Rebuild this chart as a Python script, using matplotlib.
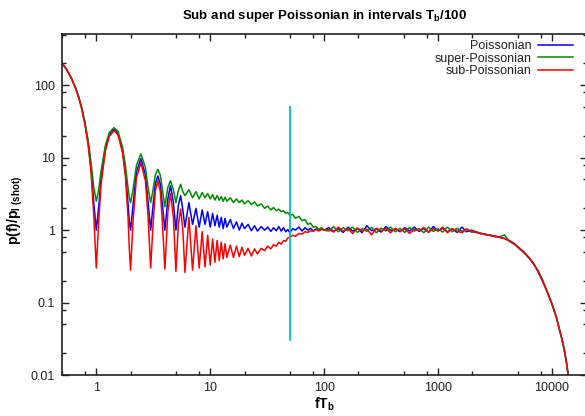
import numpy as np
import matplotlib
matplotlib.use('Agg')
import matplotlib.pyplot as plt
from matplotlib.ticker import LogLocator, NullFormatter, FixedLocator

plt.rcParams['font.family'] = ['Liberation Sans', 'DejaVu Sans']
plt.rcParams['mathtext.fontset'] = 'custom'
plt.rcParams['mathtext.rm'] = 'Liberation Sans'
plt.rcParams['mathtext.bf'] = 'Liberation Sans:bold'

# ---------------- data ----------------
# low frequencies: sinc^2 lobes
f_low = [0.5, 0.55, 0.6, 0.65, 0.7, 0.75, 0.8, 0.85, 0.9, 0.95, 1.0,
         1.05, 1.1, 1.2, 1.3, 1.43, 1.55, 1.7, 1.8, 1.9, 1.95, 2.0,
         2.1, 2.25, 2.46, 2.7, 2.85, 3.0,
         3.15, 3.3, 3.47, 3.65, 3.8, 4.0,
         4.25, 4.48, 4.75, 5.0,
         5.25, 5.5, 5.75, 6.0,
         6.5, 7.0, 7.5, 8.0, 8.5, 9.0, 9.5, 10.0]
pois_low = [203, 164, 128, 96, 69, 46, 28, 15.5, 7.0, 2.4, 1.0,
            2.1, 5.0, 13.1, 20.6, 24.8, 21.6, 12.5, 6.4, 2.3, 1.3, 1.0,
            2.2, 6.3, 9.7, 5.8, 2.4, 1.0,
            2.2, 4.4, 5.6, 4.3, 2.3, 1.0,
            2.7, 4.1, 2.4, 1.0,
            2.2, 3.0, 1.9, 1.1,
            2.4, 1.2, 2.0, 1.1, 1.9, 1.2, 1.8, 1.1]
super_low = [204, 165, 129, 97, 70, 47.5, 29.5, 17, 8.5, 3.9, 2.5,
             3.6, 6.5, 14.7, 22.2, 26.0, 23.2, 14.0, 7.9, 3.8, 2.8, 2.4,
             3.6, 7.8, 11.3, 7.3, 3.8, 2.4,
             3.6, 5.8, 6.9, 5.7, 3.7, 2.1,
             3.9, 4.8, 3.6, 2.4,
             3.5, 4.3, 3.4, 3.0,
             3.6, 2.8, 3.4, 2.7, 3.3, 2.8, 3.2, 2.7]
sub_low = [202, 163, 127, 95, 68, 45, 27, 14.6, 6.2, 1.6, 0.3,
           1.3, 4.2, 12.3, 19.8, 23.6, 20.7, 11.7, 5.6, 1.5, 0.55, 0.28,
           1.3, 5.2, 8.5, 4.8, 1.5, 0.3,
           1.2, 3.5, 4.8, 3.4, 1.3, 0.29,
           1.8, 3.2, 1.5, 0.27,
           1.2, 1.95, 1.0, 0.26,
           1.5, 0.28, 1.15, 0.3, 0.95, 0.31, 0.85, 0.33]

# middle: the three curves converge towards 1
f_mid = [10.5, 11, 11.5, 12, 12.5, 13, 13.5, 14, 15, 16, 17, 18, 19, 20,
         21.5, 23, 24.5, 26, 28, 30, 32, 34, 36, 38, 40, 42, 44, 46, 48, 50,
         53, 56, 60, 64, 68, 72, 76, 80, 85, 90, 95, 100]
pois_mid = [1.7, 1.15, 1.6, 1.1, 1.5, 1.05, 1.45, 1.1, 1.4, 1.05, 1.3, 1.0, 1.25, 1.05,
            1.2, 0.98, 1.15, 0.97, 1.12, 1.0, 1.1, 0.96, 1.08, 0.98, 1.12, 0.97, 1.08, 0.95, 1.02, 0.92,
            1.05, 1.0, 1.1, 0.97, 1.08, 1.0, 1.06, 0.98, 1.04, 1.0, 1.05, 1.0]
super_mid = [3.1, 2.6, 3.0, 2.6, 2.9, 2.5, 2.85, 2.5, 2.8, 2.4, 2.7, 2.4, 2.6, 2.3,
             2.55, 2.25, 2.45, 2.15, 2.3, 2.0, 2.15, 1.9, 2.05, 1.85, 1.95, 1.8, 1.85, 1.7, 1.75, 1.6,
             1.65, 1.45, 1.55, 1.35, 1.4, 1.2, 1.25, 1.1, 1.12, 1.02, 1.08, 1.0]
sub_mid = [0.75, 0.36, 0.72, 0.38, 0.68, 0.4, 0.65, 0.42, 0.62, 0.42, 0.6, 0.43, 0.58, 0.45,
           0.56, 0.44, 0.55, 0.47, 0.56, 0.52, 0.6, 0.55, 0.63, 0.6, 0.68, 0.64, 0.72, 0.7, 0.78, 0.8,
           0.85, 0.82, 0.9, 0.88, 0.95, 0.93, 0.98, 0.96, 1.02, 0.97, 1.03, 1.0]

# high: flat plateau then roll-off
f_high = [110, 121, 133, 147, 162, 178, 196, 215, 237, 261, 287, 316, 348, 383, 422, 464,
          511, 562, 619, 681, 750, 825, 909, 1000, 1100, 1210, 1330, 1470, 1620, 1780, 1960,
          2150, 2370, 2610, 2870, 3160, 3480, 3830, 4220, 4640, 5110, 5620, 6190, 6810, 7500,
          8250, 9090, 10000, 10500, 11000, 11600, 12200, 12800, 13400, 14000]
pois_high = [1.08, 0.96, 1.05, 0.93, 1.1, 0.97, 1.06, 0.92, 1.15, 0.98, 1.04, 0.94, 1.12, 0.99, 1.03, 0.95,
             1.08, 0.97, 1.1, 0.96, 1.05, 0.94, 1.12, 0.98, 1.06, 0.95, 1.04, 0.93, 1.1, 0.95, 1.0,
             0.95, 0.9, 0.88, 0.84, 0.83, 0.79, 0.77, 0.71, 0.66, 0.56, 0.51, 0.42, 0.36, 0.27,
             0.2, 0.14, 0.096, 0.075, 0.061, 0.043, 0.032, 0.023, 0.015, 0.009]
super_high = [0.97, 1.12, 0.95, 1.08, 0.98, 1.1, 0.93, 1.05, 0.96, 1.09, 0.92, 1.07, 0.97, 1.1, 0.95, 1.06,
              0.93, 1.09, 0.97, 1.05, 0.92, 1.1, 0.96, 1.04, 0.94, 1.1, 0.95, 1.06, 0.96, 1.03, 0.94,
              0.93, 0.91, 0.86, 0.86, 0.81, 0.81, 0.86, 0.7, 0.64, 0.58, 0.49, 0.43, 0.35, 0.28,
              0.21, 0.14, 0.094, 0.077, 0.06, 0.044, 0.031, 0.023, 0.015, 0.009]
sub_high = [1.02, 0.94, 1.1, 0.97, 1.04, 0.9, 1.07, 0.97, 1.03, 0.86, 1.06, 0.98, 1.05, 0.92, 1.06, 0.97,
            1.04, 0.9, 1.02, 0.98, 1.09, 0.93, 1.05, 0.97, 1.1, 0.92, 1.05, 0.97, 0.92, 1.04, 0.96,
            0.94, 0.89, 0.87, 0.85, 0.82, 0.8, 0.76, 0.72, 0.65, 0.57, 0.5, 0.43, 0.35, 0.28,
            0.2, 0.14, 0.095, 0.076, 0.06, 0.043, 0.032, 0.022, 0.015, 0.009]

# cyan marker line at fT_b = 50
marker_f = 50
marker_y = [0.03, 50]

f_all = np.array(f_low + f_mid + f_high)
series = [
    ('Poissonian', pois_low + pois_mid + pois_high, '#0000ff'),
    ('super-Poissonian', super_low + super_mid + super_high, '#008a00'),
    ('sub-Poissonian', sub_low + sub_mid + sub_high, '#ff0000'),
]

# ---------------- plot ----------------
fig = plt.figure(figsize=(5.85, 4.16), dpi=100)
ax = fig.add_axes([62 / 585, 41 / 416, 525 / 585, 341 / 416])

for label, vals, col in series:
    ax.plot(f_all, vals, color=col, lw=1.1, label=label)

ax.plot([marker_f, marker_f], marker_y, color='#00c0c0', lw=1.3)

ax.set_xscale('log')
ax.set_yscale('log')
ax.set_xlim(0.5, 20300)
ax.set_ylim(0.01, 510)

ax.xaxis.set_major_locator(FixedLocator([1, 10, 100, 1000, 10000]))
ax.xaxis.set_major_formatter(matplotlib.ticker.FuncFormatter(lambda v, p: '%g' % v))
ax.xaxis.set_minor_locator(LogLocator(base=10, subs=(2, 5, 8), numticks=20))
ax.xaxis.set_minor_formatter(NullFormatter())
ax.yaxis.set_major_locator(FixedLocator([0.01, 0.1, 1, 10, 100]))
ax.yaxis.set_major_formatter(matplotlib.ticker.FuncFormatter(lambda v, p: '%g' % v))
ax.yaxis.set_minor_locator(LogLocator(base=10, subs=(2, 5, 8), numticks=20))
ax.yaxis.set_minor_formatter(NullFormatter())

ax.tick_params(which='both', direction='in', top=True, right=True, labelsize=9,
               colors='#222222', width=1.0)
ax.tick_params(which='major', length=5, pad=5)
ax.tick_params(which='minor', length=3)
for s in ax.spines.values():
    s.set_linewidth(1.2)
    s.set_color('#222222')

ax.set_title(r'Sub and super Poissonian in intervals T$_\mathbf{b}$/100',
             fontsize=9.5, fontweight='bold', pad=11)
ax.set_xlabel(r'fT$_\mathbf{b}$', fontsize=10, fontweight='bold')
ax.set_ylabel(r'$\mathbf{p(f)/p_{I\ (shot)}}$', fontsize=10)
ax.xaxis.set_label_coords(0.5, -0.06)
ax.yaxis.set_label_coords(-0.07, 0.484)

leg = ax.legend(loc='upper right', bbox_to_anchor=(573 / 585, 1 - 40 / 416),
                bbox_transform=fig.transFigure, frameon=False, markerfirst=False,
                fontsize=9, handlelength=2.8, handletextpad=0.5, labelspacing=0.05,
                borderaxespad=0, borderpad=0)
for t in leg.get_texts():
    t.set_color('#222222')

fig.savefig('out.png', dpi=100)
